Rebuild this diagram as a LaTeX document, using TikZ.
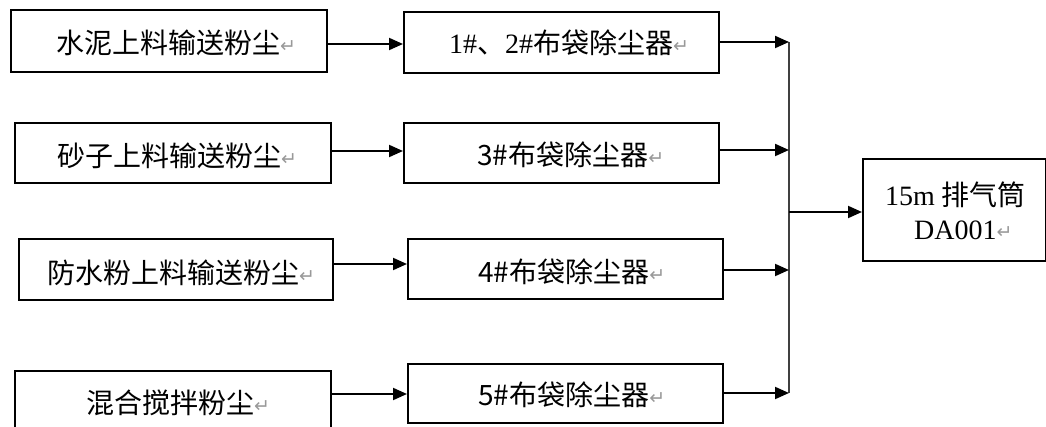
\documentclass[tikz,border=0pt]{standalone}
\usepackage{fontspec}
\setmainfont{Liberation Serif}
\newfontfamily\cjk{Noto Sans CJK SC}
\newfontfamily\djv{DejaVu Sans}
\usetikzlibrary{arrows.meta}
\newcommand\pmark{{\djv\fontsize{19}{19}\selectfont\color{black!40}\raisebox{1pt}{↵}}}
\begin{document}
\begin{tikzpicture}[x=1pt,y=-1pt,
  box/.style={draw, line width=2pt, inner sep=0pt, anchor=north west},
  txt/.style={anchor=west, inner sep=0pt, font=\fontsize{28}{33}\selectfont},
  arr/.style={-{Triangle[length=14pt,width=12pt]}, line width=2pt},
  bus/.style={line width=2pt, black!75}]
\useasboundingbox (0,0) rectangle (1046,427);
\clip (0,0) rectangle (1046,427);
% left boxes
\node[box, minimum width=316, minimum height=62] (l1) at (10,9) {};
\node[box, minimum width=316, minimum height=60] (l2) at (14,122) {};
\node[box, minimum width=314, minimum height=61] (l3) at (18,238) {};
\node[box, minimum width=316, minimum height=70] (l4) at (14,370) {};
% middle boxes
\node[box, minimum width=315, minimum height=61] (m1) at (403,11) {};
\node[box, minimum width=315, minimum height=60] (m2) at (403,122) {};
\node[box, minimum width=315, minimum height=60] (m3) at (407,238) {};
\node[box, minimum width=315, minimum height=59] (m4) at (407,363) {};
% output box
\node[box, minimum width=183, minimum height=102] (out) at (862,158) {};
% texts
\node[txt] (t1) at (56,43) {\cjk 水泥上料输送粉尘\pmark};
\node[txt] (t2) at (57,156) {\cjk 砂子上料输送粉尘\pmark};
\node[txt] (t3) at (47,273) {\cjk 防水粉上料输送粉尘\pmark};
\node[txt] (t4) at (86,403) {\cjk 混合搅拌粉尘\pmark};
\node[txt] (tm1) at (449,43) {1\#{\cjk 、}2\#{\cjk 布袋除尘器}\pmark};
\node[txt] (tm2) at (477,155) {\cjk 3\#布袋除尘器\pmark};
\node[txt] (tm3) at (478,272) {\cjk 4\#布袋除尘器\pmark};
\node[txt] (tm4) at (478,395) {\cjk 5\#布袋除尘器\pmark};
\node[txt] (o1) at (885,195) {15m {\cjk 排气筒}};
\node[txt] (o2) at (914,230) {DA001\pmark};
% bus coordinates
\coordinate (j1) at (789,42);
\coordinate (j2) at (789,150);
\coordinate (j3) at (789,270);
\coordinate (j4) at (789,393);
\coordinate (jo) at (789,212);
% arrows left -> middle
\draw[arr] ([yshift=-3pt]l1.east) -- ([yshift=-3pt]l1.east -| m1.west);
\draw[arr] ([yshift=2pt]l2.east) -- ([yshift=2pt]l2.east -| m2.west);
\draw[arr] ([yshift=5.5pt]l3.east) -- ([yshift=5.5pt]l3.east -| m3.west);
\draw[arr] ([yshift=12pt]l4.east) -- ([yshift=12pt]l4.east -| m4.west);
% bus
\draw[bus] (j1) -- (j4);
% arrows middle -> bus
\draw[arr] (m1.east |- j1) -- (j1);
\draw[arr] (m2.east |- j2) -- (j2);
\draw[arr] (m3.east |- j3) -- (j3);
\draw[arr] (m4.east |- j4) -- (j4);
% arrow to output
\draw[arr] (jo) -- (jo -| out.west);
\end{tikzpicture}
\end{document}
